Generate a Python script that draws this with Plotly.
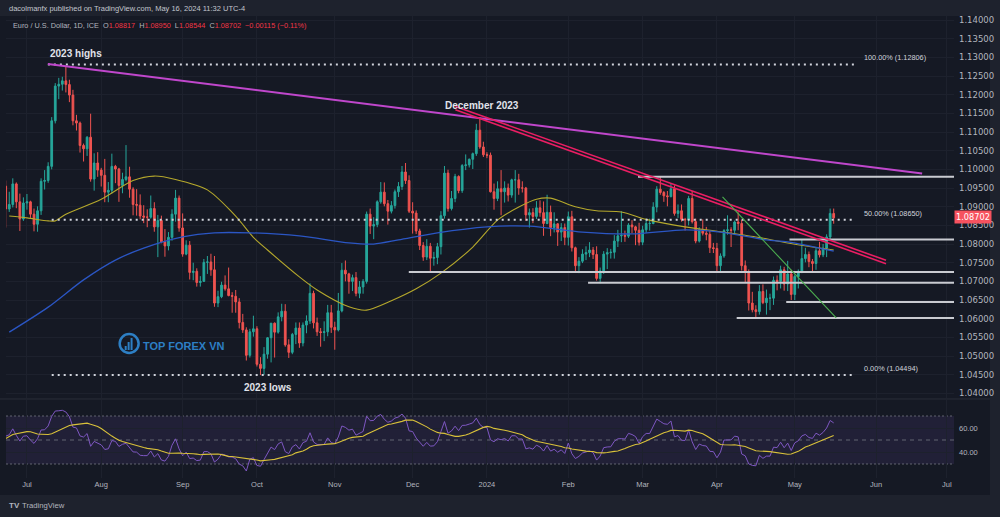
import numpy as np
import pandas as pd
import plotly.graph_objects as go

# ---------------- data (EUR/USD daily) ----------------
# (open, high, low, close) per trading day, grouped by month
ohlc_2023_06 = [  # Jun 22 - Jun 30
    (1.0991, 1.1012, 1.0950, 1.0955), (1.0955, 1.0970, 1.0844, 1.0894),
    (1.0894, 1.0940, 1.0886, 1.0906), (1.0906, 1.0976, 1.0898, 1.0961),
    (1.0961, 1.0965, 1.0896, 1.0913), (1.0913, 1.0935, 1.0835, 1.0867),
    (1.0867, 1.0925, 1.0862, 1.0910),
]
ohlc_2023_07 = [
    (1.0910, 1.0934, 1.0892, 1.0913), (1.0913, 1.0916, 1.0870, 1.0880),
    (1.0880, 1.0895, 1.0834, 1.0853), (1.0853, 1.0901, 1.0833, 1.0889),
    (1.0889, 1.0976, 1.0878, 1.0968), (1.0968, 1.0998, 1.0946, 1.0970),
    (1.0970, 1.1019, 1.0964, 1.1008), (1.1008, 1.1140, 1.1000, 1.1130),
    (1.1130, 1.1231, 1.1123, 1.1223), (1.1223, 1.1245, 1.1188, 1.1228),
    (1.1228, 1.1248, 1.1211, 1.1237), (1.1237, 1.1276, 1.1206, 1.1227),
    (1.1227, 1.1240, 1.1180, 1.1199), (1.1199, 1.1213, 1.1118, 1.1130),
    (1.1130, 1.1146, 1.1104, 1.1124), (1.1124, 1.1128, 1.1045, 1.1064),
    (1.1064, 1.1069, 1.1021, 1.1055), (1.1055, 1.1089, 1.1036, 1.1086),
    (1.1086, 1.1149, 1.0967, 1.0974), (1.0974, 1.1043, 1.0943, 1.1017),
    (1.1017, 1.1046, 1.0980, 1.0998),
]
ohlc_2023_08 = [
    (1.0998, 1.1004, 1.0954, 1.0984), (1.0984, 1.1028, 1.0912, 1.0939),
    (1.0939, 1.0966, 1.0912, 1.0944), (1.0944, 1.1042, 1.0935, 1.1008),
    (1.1008, 1.1012, 1.0963, 1.1001), (1.1001, 1.1004, 1.0913, 1.0957),
    (1.0957, 1.0991, 1.0936, 1.0973), (1.0973, 1.1065, 1.0968, 1.0980),
    (1.0980, 1.1007, 1.0924, 1.0947), (1.0947, 1.0952, 1.0877, 1.0906),
    (1.0906, 1.0947, 1.0876, 1.0904), (1.0904, 1.0933, 1.0866, 1.0875),
    (1.0875, 1.0904, 1.0856, 1.0872), (1.0872, 1.0893, 1.0845, 1.0872),
    (1.0872, 1.0930, 1.0868, 1.0895), (1.0895, 1.0912, 1.0833, 1.0846),
    (1.0846, 1.0878, 1.0765, 1.0863), (1.0863, 1.0876, 1.0802, 1.0806),
    (1.0806, 1.0840, 1.0766, 1.0795), (1.0795, 1.0832, 1.0783, 1.0818),
    (1.0818, 1.0893, 1.0809, 1.0880), (1.0880, 1.0945, 1.0860, 1.0923),
    (1.0923, 1.0930, 1.0833, 1.0843),
]
ohlc_2023_09 = [
    (1.0843, 1.0882, 1.0766, 1.0773), (1.0773, 1.0810, 1.0770, 1.0797),
    (1.0797, 1.0808, 1.0705, 1.0724), (1.0724, 1.0750, 1.0703, 1.0727),
    (1.0727, 1.0735, 1.0686, 1.0697), (1.0697, 1.0714, 1.0686, 1.0700),
    (1.0700, 1.0760, 1.0699, 1.0751), (1.0751, 1.0768, 1.0720, 1.0752),
    (1.0752, 1.0774, 1.0715, 1.0731), (1.0731, 1.0768, 1.0632, 1.0642),
    (1.0642, 1.0675, 1.0631, 1.0659), (1.0659, 1.0699, 1.0655, 1.0690),
    (1.0690, 1.0716, 1.0675, 1.0680), (1.0680, 1.0737, 1.0660, 1.0662),
    (1.0662, 1.0671, 1.0616, 1.0660), (1.0660, 1.0677, 1.0616, 1.0645),
    (1.0645, 1.0655, 1.0574, 1.0590), (1.0590, 1.0613, 1.0562, 1.0570),
    (1.0570, 1.0577, 1.0488, 1.0502), (1.0502, 1.0573, 1.0496, 1.0565),
    (1.0565, 1.0608, 1.0552, 1.0573),
]
ohlc_2023_10 = [
    (1.0573, 1.0580, 1.0472, 1.0478), (1.0478, 1.0497, 1.0449, 1.0467),
    (1.0467, 1.0524, 1.0450, 1.0505), (1.0505, 1.0551, 1.0493, 1.0549),
    (1.0549, 1.0587, 1.0483, 1.0588), (1.0588, 1.0590, 1.0496, 1.0564),
    (1.0564, 1.0617, 1.0560, 1.0605), (1.0605, 1.0640, 1.0593, 1.0620),
    (1.0620, 1.0639, 1.0525, 1.0530), (1.0530, 1.0545, 1.0495, 1.0510),
    (1.0510, 1.0562, 1.0505, 1.0558), (1.0558, 1.0590, 1.0532, 1.0575),
    (1.0575, 1.0590, 1.0522, 1.0535), (1.0535, 1.0590, 1.0526, 1.0583),
    (1.0583, 1.0609, 1.0561, 1.0594), (1.0594, 1.0695, 1.0586, 1.0668),
    (1.0668, 1.0675, 1.0574, 1.0589), (1.0589, 1.0603, 1.0554, 1.0565),
    (1.0565, 1.0575, 1.0525, 1.0563), (1.0563, 1.0593, 1.0540, 1.0565),
    (1.0565, 1.0637, 1.0553, 1.0616), (1.0616, 1.0637, 1.0562, 1.0577),
]
ohlc_2023_11 = [
    (1.0577, 1.0592, 1.0517, 1.0570), (1.0570, 1.0669, 1.0566, 1.0621),
    (1.0621, 1.0749, 1.0617, 1.0730), (1.0730, 1.0756, 1.0700, 1.0720),
    (1.0720, 1.0723, 1.0667, 1.0700), (1.0700, 1.0718, 1.0674, 1.0710),
    (1.0710, 1.0725, 1.0660, 1.0668), (1.0668, 1.0701, 1.0655, 1.0685),
    (1.0685, 1.0706, 1.0667, 1.0700), (1.0700, 1.0887, 1.0694, 1.0880),
    (1.0880, 1.0895, 1.0827, 1.0848), (1.0848, 1.0872, 1.0813, 1.0852),
    (1.0852, 1.0917, 1.0845, 1.0913), (1.0913, 1.0966, 1.0908, 1.0939),
    (1.0939, 1.0965, 1.0901, 1.0908), (1.0908, 1.0918, 1.0852, 1.0888),
    (1.0888, 1.0915, 1.0882, 1.0903), (1.0903, 1.0946, 1.0895, 1.0940),
    (1.0940, 1.0966, 1.0926, 1.0954), (1.0954, 1.1009, 1.0945, 1.0993),
    (1.0993, 1.1017, 1.0961, 1.0970), (1.0970, 1.0984, 1.0883, 1.0888),
]
ohlc_2023_12 = [
    (1.0888, 1.0912, 1.0828, 1.0883), (1.0883, 1.0890, 1.0827, 1.0835),
    (1.0835, 1.0841, 1.0784, 1.0796), (1.0796, 1.0805, 1.0755, 1.0765),
    (1.0765, 1.0813, 1.0757, 1.0794), (1.0794, 1.0803, 1.0723, 1.0762),
    (1.0762, 1.0779, 1.0742, 1.0764), (1.0764, 1.0803, 1.0746, 1.0793),
    (1.0793, 1.0888, 1.0772, 1.0876), (1.0876, 1.1009, 1.0868, 1.0990),
    (1.0990, 1.0999, 1.0887, 1.0895), (1.0895, 1.0942, 1.0890, 1.0922),
    (1.0922, 1.0988, 1.0912, 1.0981), (1.0981, 1.0984, 1.0936, 1.0943),
    (1.0943, 1.1014, 1.0937, 1.1010), (1.1010, 1.1040, 1.0998, 1.1012),
    (1.1012, 1.1029, 1.1005, 1.1027), (1.1027, 1.1045, 1.1001, 1.1042),
    (1.1042, 1.1122, 1.1036, 1.1105), (1.1105, 1.1140, 1.1055, 1.1060),
    (1.1060, 1.1074, 1.1033, 1.1039),
]
ohlc_2024_01 = [
    (1.1039, 1.1046, 1.1030, 1.1038), (1.1038, 1.1045, 1.0938, 1.0940),
    (1.0940, 1.0962, 1.0892, 1.0922), (1.0922, 1.0968, 1.0915, 1.0948),
    (1.0948, 1.0998, 1.0877, 1.0940), (1.0940, 1.0968, 1.0911, 1.0950),
    (1.0950, 1.0962, 1.0914, 1.0931), (1.0931, 1.0975, 1.0924, 1.0972),
    (1.0972, 1.0998, 1.0911, 1.0972), (1.0972, 1.0988, 1.0932, 1.0950),
    (1.0950, 1.0968, 1.0938, 1.0950), (1.0950, 1.0953, 1.0862, 1.0878),
    (1.0878, 1.0895, 1.0844, 1.0884), (1.0884, 1.0896, 1.0856, 1.0874),
    (1.0874, 1.0915, 1.0867, 1.0897), (1.0897, 1.0917, 1.0873, 1.0884),
    (1.0884, 1.0914, 1.0822, 1.0855), (1.0855, 1.0932, 1.0853, 1.0885),
    (1.0885, 1.0903, 1.0821, 1.0844), (1.0844, 1.0885, 1.0831, 1.0854),
    (1.0854, 1.0856, 1.0795, 1.0832), (1.0832, 1.0856, 1.0808, 1.0844),
    (1.0844, 1.0855, 1.0797, 1.0818),
]
ohlc_2024_02 = [
    (1.0818, 1.0887, 1.0796, 1.0873), (1.0873, 1.0889, 1.0780, 1.0790),
    (1.0790, 1.0793, 1.0723, 1.0742), (1.0742, 1.0765, 1.0722, 1.0754),
    (1.0754, 1.0786, 1.0749, 1.0773), (1.0773, 1.0794, 1.0757, 1.0777),
    (1.0777, 1.0805, 1.0765, 1.0784), (1.0784, 1.0792, 1.0760, 1.0772),
    (1.0772, 1.0794, 1.0702, 1.0708), (1.0708, 1.0737, 1.0695, 1.0728),
    (1.0728, 1.0781, 1.0720, 1.0773), (1.0773, 1.0789, 1.0733, 1.0777),
    (1.0777, 1.0787, 1.0761, 1.0778), (1.0778, 1.0824, 1.0761, 1.0808),
    (1.0808, 1.0838, 1.0792, 1.0822), (1.0822, 1.0888, 1.0805, 1.0823),
    (1.0823, 1.0836, 1.0806, 1.0821), (1.0821, 1.0856, 1.0816, 1.0851),
    (1.0851, 1.0864, 1.0829, 1.0846), (1.0846, 1.0849, 1.0797, 1.0837),
    (1.0837, 1.0857, 1.0796, 1.0805),
]
ohlc_2024_03 = [
    (1.0805, 1.0849, 1.0797, 1.0838), (1.0838, 1.0868, 1.0830, 1.0855),
    (1.0855, 1.0868, 1.0836, 1.0855), (1.0855, 1.0912, 1.0853, 1.0899),
    (1.0899, 1.0955, 1.0885, 1.0947), (1.0947, 1.0981, 1.0932, 1.0938),
    (1.0938, 1.0942, 1.0913, 1.0929), (1.0929, 1.0942, 1.0901, 1.0927),
    (1.0927, 1.0963, 1.0925, 1.0948), (1.0948, 1.0957, 1.0876, 1.0882),
    (1.0882, 1.0906, 1.0870, 1.0889), (1.0889, 1.0906, 1.0860, 1.0866),
    (1.0866, 1.0870, 1.0836, 1.0865), (1.0865, 1.0929, 1.0850, 1.0922),
    (1.0922, 1.0942, 1.0855, 1.0860), (1.0860, 1.0868, 1.0802, 1.0808),
    (1.0808, 1.0845, 1.0804, 1.0839), (1.0839, 1.0866, 1.0823, 1.0829),
    (1.0829, 1.0846, 1.0810, 1.0826), (1.0826, 1.0835, 1.0776, 1.0790),
    (1.0790, 1.0803, 1.0776, 1.0788),
]
ohlc_2024_04 = [
    (1.0788, 1.0803, 1.0725, 1.0742), (1.0742, 1.0775, 1.0724, 1.0768),
    (1.0768, 1.0840, 1.0763, 1.0836), (1.0836, 1.0877, 1.0825, 1.0838),
    (1.0838, 1.0845, 1.0792, 1.0837), (1.0837, 1.0863, 1.0826, 1.0859),
    (1.0859, 1.0885, 1.0837, 1.0855), (1.0855, 1.0865, 1.0729, 1.0742),
    (1.0742, 1.0756, 1.0698, 1.0726), (1.0726, 1.0732, 1.0622, 1.0642),
    (1.0642, 1.0672, 1.0617, 1.0624), (1.0624, 1.0636, 1.0601, 1.0619),
    (1.0619, 1.0690, 1.0611, 1.0673), (1.0673, 1.0692, 1.0639, 1.0643),
    (1.0643, 1.0678, 1.0611, 1.0655), (1.0655, 1.0667, 1.0623, 1.0655),
    (1.0655, 1.0713, 1.0637, 1.0703), (1.0703, 1.0716, 1.0676, 1.0700),
    (1.0700, 1.0742, 1.0681, 1.0731), (1.0731, 1.0739, 1.0675, 1.0693),
    (1.0693, 1.0755, 1.0674, 1.0720), (1.0720, 1.0731, 1.0650, 1.0665),
]
ohlc_2024_05 = [  # May 1 - May 16
    (1.0665, 1.0718, 1.0650, 1.0713), (1.0713, 1.0732, 1.0681, 1.0727),
    (1.0727, 1.0812, 1.0722, 1.0761), (1.0761, 1.0790, 1.0751, 1.0772),
    (1.0772, 1.0780, 1.0738, 1.0753), (1.0753, 1.0760, 1.0724, 1.0748),
    (1.0748, 1.0790, 1.0731, 1.0782), (1.0782, 1.0806, 1.0764, 1.0771),
    (1.0771, 1.0800, 1.0765, 1.0789), (1.0789, 1.0826, 1.0765, 1.0819),
    (1.0819, 1.0895, 1.0810, 1.0882), (1.08817, 1.08950, 1.08544, 1.08702),
]
# closes before the visible window (May 15 - Jun 21, 2023), only used to seed RSI(14)
rsi_warmup_closes = [
    1.0871, 1.0862, 1.0838, 1.0769, 1.0805, 1.0811, 1.0771, 1.0750, 1.0725, 1.0722,
    1.0705, 1.0735, 1.0690, 1.0762, 1.0708, 1.0712, 1.0694, 1.0698, 1.0781, 1.0749,
    1.0754, 1.0793, 1.0832, 1.0944, 1.0940, 1.0922, 1.0917, 1.0991,
]

# 50-day SMA (yellow) and 200-day SMA (blue)
sma50_dates = ["2023-06-26", "2023-07-03", "2023-07-11", "2023-07-13", "2023-07-18",
               "2023-08-01", "2023-08-14", "2023-08-22", "2023-08-30", "2023-09-12",
               "2023-09-21", "2023-09-25", "2023-09-29", "2023-10-05", "2023-10-18",
               "2023-10-25", "2023-11-07", "2023-11-14", "2023-11-23", "2023-12-04",
               "2023-12-13", "2023-12-26", "2024-01-04", "2024-01-12", "2024-01-19",
               "2024-01-25", "2024-02-05", "2024-02-13", "2024-02-22", "2024-03-04",
               "2024-03-19", "2024-04-02", "2024-04-16", "2024-04-29", "2024-05-16"]
sma50_vals = [1.0875, 1.0870, 1.0862, 1.0862, 1.0880,
              1.0920, 1.0970, 1.0982, 1.0973, 1.0945,
              1.0885, 1.0864, 1.0818, 1.0784, 1.0712,
              1.0677, 1.0632, 1.0623, 1.0648, 1.0680,
              1.0722, 1.0792, 1.0864, 1.0899, 1.0920,
              1.0923, 1.0900, 1.0889, 1.0886, 1.0866,
              1.0846, 1.0833, 1.0819, 1.0803, 1.0784]
sma200_dates = ["2023-06-26", "2023-07-11", "2023-07-25", "2023-08-07", "2023-08-17",
                "2023-09-01", "2023-09-14", "2023-09-28", "2023-10-18", "2023-11-07",
                "2023-11-16", "2023-11-27", "2023-12-12", "2024-01-01", "2024-01-17",
                "2024-02-07", "2024-02-27", "2024-03-19", "2024-04-02", "2024-04-19",
                "2024-04-29", "2024-05-16"]
sma200_vals = [1.0564, 1.0631, 1.0704, 1.0757, 1.0789,
               1.0819, 1.0830, 1.0830, 1.0822, 1.0803,
               1.0800, 1.0811, 1.0830, 1.0846, 1.0848,
               1.0832, 1.0827, 1.0838, 1.0832, 1.0811,
               1.0806, 1.0781]

# Fibonacci / key levels
fib_high = 1.12806
fib_low = 1.04494
fib_start_dates = ["2023-07-10 22:00", "2023-07-12 00:00", "2023-07-12 00:00"]
fib_end_date = "2024-05-23 19:00"
# solid horizontal support / resistance lines (level, start date)
hline_levels = [1.0980, 1.0812, 1.0725, 1.0696, 1.0645, 1.0602]
hline_starts = ["2024-02-28 17:00", "2024-04-29 12:00", "2023-11-29 22:00",
                "2024-02-08 14:00", "2024-04-26 14:00", "2024-04-08 14:00"]
# trendlines: (start date, start price, end date, end price)
magenta_line = ("2023-07-10 22:00", 1.1282, "2024-06-20 00:00", 1.0989)
red_line = ("2023-12-19 02:00", 1.1164, "2024-06-05 19:00", 1.0752)
green_line = ("2024-04-02 14:00", 1.0926, "2024-05-16 17:00", 1.0602)

month_tick_dates = ["2023-07-03", "2023-08-01", "2023-09-01", "2023-10-02", "2023-11-01",
                    "2023-12-01", "2024-01-01", "2024-02-01", "2024-03-01", "2024-04-01",
                    "2024-05-01", "2024-06-03", "2024-07-01"]
month_tick_labels = ["Jul", "Aug", "Sep", "Oct", "Nov", "Dec", "2024", "Feb", "Mar",
                     "Apr", "May", "Jun", "Jul"]
price_tick_labels = ["1.04000", "1.04500", "1.05000", "1.05500", "1.06000", "1.06500",
                     "1.07000", "1.07500", "1.08000", "1.08500", "1.09000", "1.09500",
                     "1.10000", "1.10500", "1.11000", "1.11500", "1.12000", "1.12500",
                     "1.13000", "1.13500", "1.14000"]
rsi_tick_vals = [40, 60]
rsi_tick_labels = ["40.00", "60.00"]

# ---------------- assemble ----------------
bars = (ohlc_2023_06 + ohlc_2023_07 + ohlc_2023_08 + ohlc_2023_09 + ohlc_2023_10 +
        ohlc_2023_11 + ohlc_2023_12 + ohlc_2024_01 + ohlc_2024_02 + ohlc_2024_03 +
        ohlc_2024_04 + ohlc_2024_05)
dates = pd.bdate_range("2023-06-22", "2024-05-16")
assert len(dates) == len(bars), (len(dates), len(bars))
opens = [b[0] for b in bars]
highs = [b[1] for b in bars]
lows = [b[2] for b in bars]
closes = [b[3] for b in bars]

# RSI(14), Wilder smoothing, with 14-period SMA of RSI
series = np.array(rsi_warmup_closes + closes, dtype=float)
d = np.diff(series)
g = np.clip(d, 0, None)
l = np.clip(-d, 0, None)
n = 14
ag = np.full(len(d), np.nan)
al = np.full(len(d), np.nan)
ag[n - 1] = g[:n].mean()
al[n - 1] = l[:n].mean()
for i in range(n, len(d)):
    ag[i] = (ag[i - 1] * (n - 1) + g[i]) / n
    al[i] = (al[i - 1] * (n - 1) + l[i]) / n
rsi_full = 100 - 100 / (1 + ag / al)
rsi_ma_full = pd.Series(rsi_full).rolling(14).mean().to_numpy()
rsi = rsi_full[-len(closes):]
rsi_ma = rsi_ma_full[-len(closes):]

# ---------------- style ----------------
UP, DN = "#26a69a", "#ef5350"
BG, FRAME, GRID = "#151924", "#1e222d", "#1d212d"
TXT = "#b2b5be"
RED = "#f23645"
FONT = "Liberation Sans, Arial, sans-serif"
X_RANGE = ["2023-06-23 02:00", "2024-07-03 00:00"]

fig = go.Figure()
fig.add_trace(go.Candlestick(
    x=dates, open=opens, high=highs, low=lows, close=closes,
    increasing=dict(line=dict(color=UP, width=1), fillcolor=UP),
    decreasing=dict(line=dict(color=DN, width=1), fillcolor=DN),
    whiskerwidth=0, hoverinfo="skip", showlegend=False, xaxis="x", yaxis="y"))
fig.add_trace(go.Scatter(x=pd.to_datetime(sma50_dates), y=sma50_vals, mode="lines",
                         line=dict(color="#b5a82c", width=1.1, shape="spline", smoothing=0.8),
                         hoverinfo="skip", showlegend=False, yaxis="y"))
fig.add_trace(go.Scatter(x=pd.to_datetime(sma200_dates), y=sma200_vals, mode="lines",
                         line=dict(color="#2b56c4", width=1.3, shape="spline", smoothing=0.8),
                         hoverinfo="skip", showlegend=False, yaxis="y"))

# RSI pane
fig.add_trace(go.Scatter(x=dates, y=rsi, mode="lines", line=dict(color="#7e57c2", width=1),
                         hoverinfo="skip", showlegend=False, yaxis="y2"))
fig.add_trace(go.Scatter(x=dates, y=rsi_ma, mode="lines", line=dict(color="#d9c13a", width=1.1),
                         hoverinfo="skip", showlegend=False, yaxis="y2"))

shapes = []
# dark chart background (chart + axes area) over the lighter frame
shapes.append(dict(type="rect", xref="paper", yref="paper", x0=-0.0064, x1=1.0379,
                   y0=-0.0368, y1=1.0, fillcolor=BG, line=dict(width=0), layer="below"))
# pane separator
shapes.append(dict(type="line", xref="paper", yref="paper", x0=-0.0064, x1=1.0379,
                   y0=0.1710, y1=0.1710, line=dict(color="#2a2e39", width=1), layer="below"))
# RSI band and levels
shapes.append(dict(type="rect", xref="x domain", yref="y2", x0=0, x1=1, y0=30, y1=70,
                   fillcolor="rgba(126,87,194,0.12)", line=dict(width=0), layer="below"))
for lvl, dash in [(70, "2px,2px"), (50, "4px,4px"), (30, "2px,2px")]:
    shapes.append(dict(type="line", xref="x domain", yref="y2", x0=0, x1=1, y0=lvl, y1=lvl,
                       line=dict(color="rgba(120,123,134,0.75)", width=1, dash=dash), layer="below"))

# Fibonacci dotted levels
fib_levels = [fib_high, (fib_high + fib_low) / 2, fib_low]
for lvl, x0 in zip(fib_levels, fib_start_dates):
    shapes.append(dict(type="line", xref="x", yref="y", x0=x0, x1=fib_end_date, y0=lvl, y1=lvl,
                       line=dict(color="#d1d4dc", width=2, dash="2px,4px"), layer="above"))
# solid levels
for lvl, x0 in zip(hline_levels, hline_starts):
    shapes.append(dict(type="line", xref="x", yref="y", x0=x0, x1=X_RANGE[1], y0=lvl, y1=lvl,
                       line=dict(color="#c9cbd1", width=2), layer="above"))
# trendlines
x0, y0, x1, y1 = magenta_line
shapes.append(dict(type="line", xref="x", yref="y", x0=x0, x1=x1, y0=y0, y1=y1,
                   line=dict(color="#c047cc", width=2), layer="above"))
x0, y0, x1, y1 = red_line
for off in (0.00045, -0.00045):
    shapes.append(dict(type="line", xref="x", yref="y", x0=x0, x1=x1, y0=y0 + off, y1=y1 + off,
                       line=dict(color="#e91e63", width=1.6), layer="above"))
x0, y0, x1, y1 = green_line
shapes.append(dict(type="line", xref="x", yref="y", x0=x0, x1=x1, y0=y0, y1=y1,
                   line=dict(color="#4caf50", width=1.1), layer="above"))
# watermark logo: ring with small rising bars
LOGO = "#2d7fc4"
shapes.append(dict(type="circle", xref="paper", yref="paper", x0=0.1199, x1=0.1399,
                   y0=0.2706, y1=0.3117, line=dict(color=LOGO, width=2.5), layer="above"))
for bx0, bx1, by1 in [(0.1252, 0.1273, 0.2857), (0.1283, 0.1304, 0.2944), (0.1314, 0.1335, 0.3030)]:
    shapes.append(dict(type="rect", xref="paper", yref="paper", x0=bx0, x1=bx1, y0=0.2770,
                       y1=by1, fillcolor=LOGO, line=dict(width=0), layer="above"))

annotations = []
def ann(text, x, y, size, color="#e0e3eb", bold=False, xanchor="center", xref="x", yref="y",
        family=FONT, **kw):
    annotations.append(dict(text=f"<b>{text}</b>" if bold else text, x=x, y=y, xref=xref,
                            yref=yref, showarrow=False, xanchor=xanchor, yanchor="middle",
                            font=dict(size=size, color=color, family=family), **kw))

ann("2023 highs", "2023-07-10 22:00", 1.13116, 10, bold=True, xanchor="left")
ann("December 2023", "2023-12-28 14:00", 1.11697, 10, bold=True)
ann("2023 lows", "2023-10-05 05:00", 1.04171, 10, bold=True)
ann(f"100.00% ({fib_high:.5f})", "2024-05-28 00:00", 1.13009, 7.3, color="#d1d4dc", xanchor="left")
ann(f"50.00% ({(fib_high + fib_low) / 2:.5f})", "2024-05-28 00:00", 1.08831, 7.3,
    color="#d1d4dc", xanchor="left")
ann(f"0.00% ({fib_low:.5f})", "2024-05-28 00:00", 1.04680, 7.3, color="#d1d4dc", xanchor="left")
ann("TOP FOREX VN", 0.1877, 0.2857, 11, color=LOGO, bold=True, xref="paper", yref="paper")

# header & legend
ann("dacolmanfx published on TradingView.com, May 16, 2024 11:32 UTC-4", 0.0008, 1.0152, 7.5,
    color="#c3c6ce", xanchor="left", xref="paper", yref="paper")
o, h, lo, c = bars[-1]
chg = c - o
pct = chg / o * 100
sp = "\u00a0"
legend = (f"Euro / U.S. Dollar, 1D, ICE{sp}{sp}O<span style='color:{RED}'>{o:.5f}</span>{sp}{sp}"
          f"H<span style='color:{RED}'>{h:.5f}</span>{sp}{sp}"
          f"L<span style='color:{RED}'>{lo:.5f}</span>{sp}{sp}"
          f"C<span style='color:{RED}'>{c:.5f}</span>{sp}{sp}"
          f"<span style='color:{RED}'>{chg:+.5f} ({pct:+.2f}%)</span>").replace("-0.", "\u22120.")
ann(legend, 0.0053, 0.9784, 7.3, color=TXT, xanchor="left", xref="paper", yref="paper")

# last price tag (sits over part of the 1.08500 label, as in the original)
annotations.append(dict(text=f"{c:.5f}", x=1.0, y=c, xref="paper", yref="y", showarrow=False,
                        xanchor="left", yanchor="middle", bgcolor="#f7525f", borderpad=1,
                        yshift=1,
                        font=dict(size=8.2, color="white", family="DejaVu Sans, sans-serif")))
# footer
ann("<b>TV</b>", 0.0011, -0.0606, 8, color=TXT, xanchor="left", xref="paper", yref="paper")
ann("TradingView", 0.0147, -0.0606, 7.7, color=TXT, xanchor="left", xref="paper", yref="paper")

fig.update_layout(
    width=1000, height=517,
    margin=dict(l=6, r=43, t=16, b=39),
    paper_bgcolor=FRAME, plot_bgcolor=BG,
    showlegend=False,
    shapes=shapes, annotations=annotations,
    xaxis=dict(type="date", range=X_RANGE, rangebreaks=[dict(bounds=["sat", "mon"])],
               anchor="y2", tickmode="array", tickvals=pd.to_datetime(month_tick_dates),
               ticktext=month_tick_labels, tickfont=dict(size=7.5, color=TXT, family=FONT),
               showgrid=True, gridcolor=GRID, gridwidth=1, zeroline=False, showline=False,
               ticks="", rangeslider=dict(visible=False), fixedrange=True),
    yaxis=dict(domain=[0.17316, 1.0], range=[1.038768, 1.14107], side="right", anchor="x",
               tickmode="array", tickvals=[float(t) for t in price_tick_labels],
               ticktext=price_tick_labels,
               tickfont=dict(size=8.5, color=TXT, family="DejaVu Sans, sans-serif"),
               showgrid=True, gridcolor=GRID, zeroline=False, showline=False, ticks="",
               ticklabelstandoff=4, fixedrange=True),
    yaxis2=dict(domain=[0.0, 0.16883], range=[18.33, 83.33], side="right", anchor="x",
                tickmode="array", tickvals=rsi_tick_vals, ticktext=rsi_tick_labels,
                tickfont=dict(size=7.5, color=TXT, family=FONT),
                showgrid=True, gridcolor=GRID, zeroline=False, showline=False, ticks="",
                ticklabelstandoff=4, fixedrange=True),
)

fig.write_html("out.html")
